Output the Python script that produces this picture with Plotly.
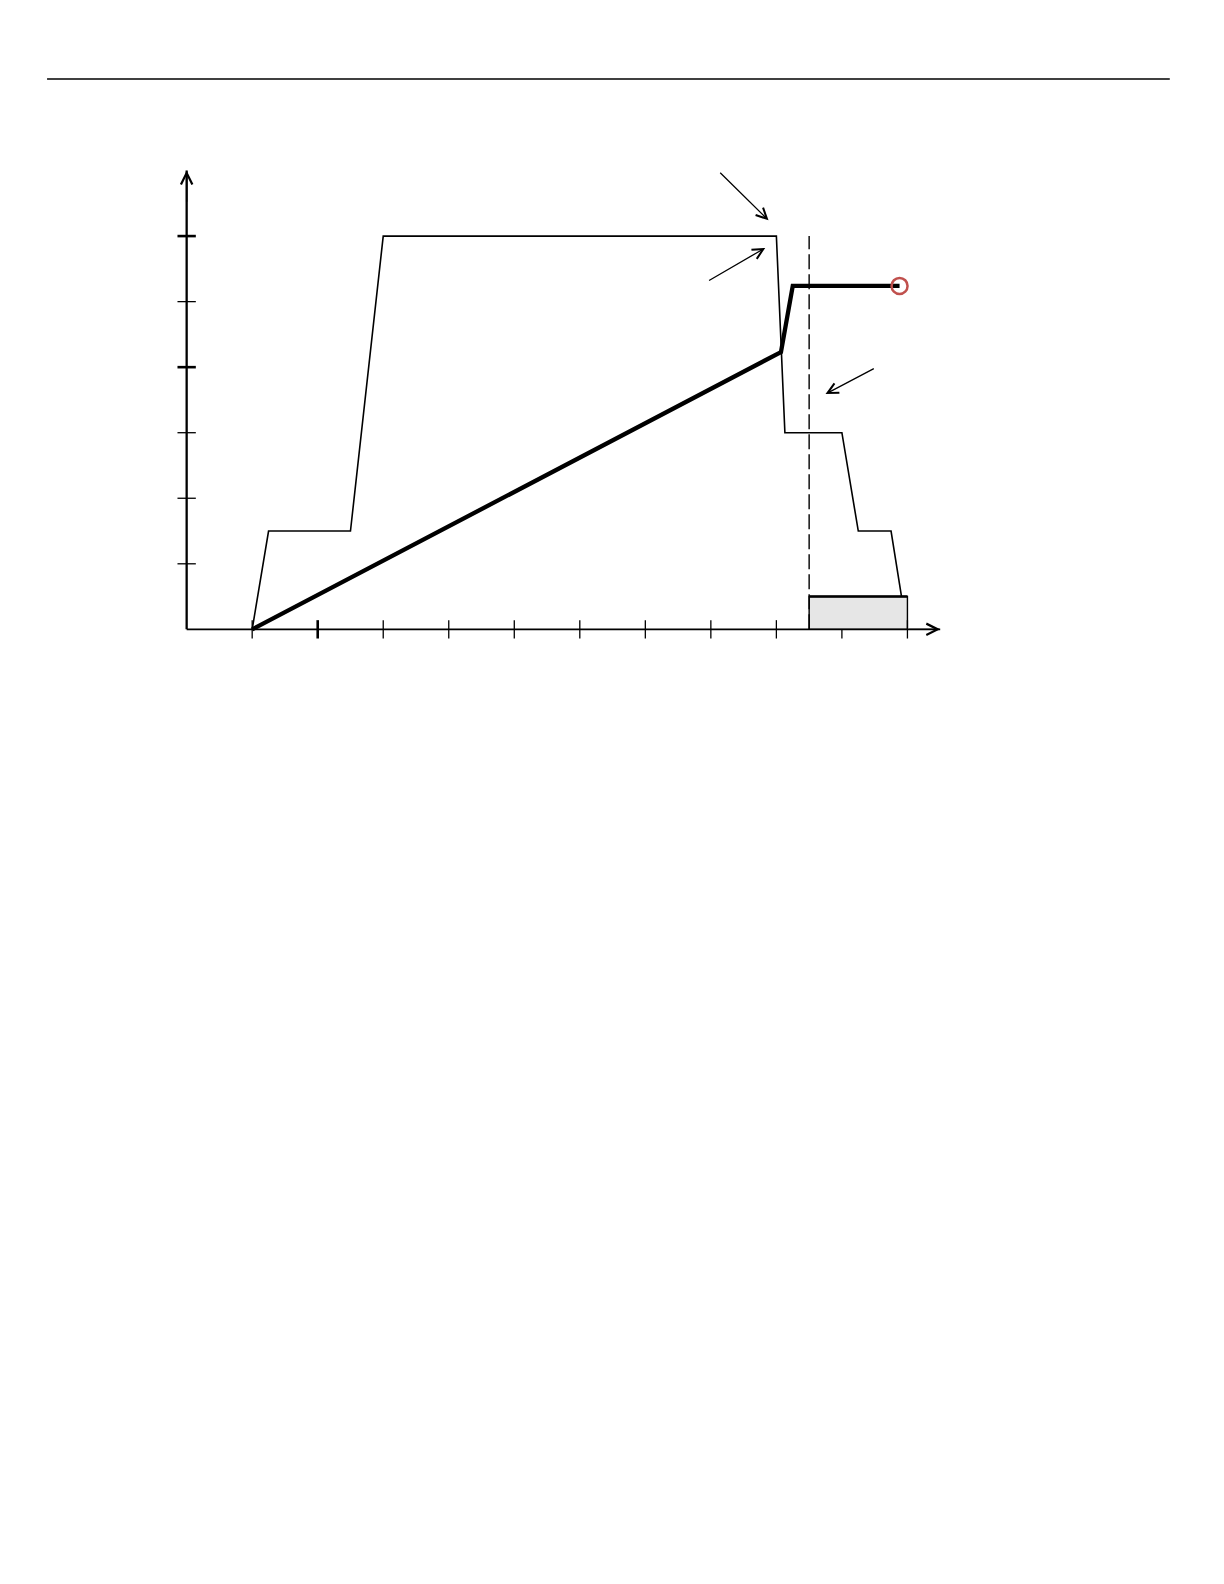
import plotly.graph_objects as go

# axis ticks (data units)
x_ticks = [1, 2, 3, 4, 5, 6, 7, 8, 9, 10, 11]
y_ticks = [1, 2, 3, 4, 5, 6]
x_major = [2]
y_major = [4, 6]

# thin profile line
outer_x = [1, 1.25, 2.5, 3, 9, 9.13, 10, 10.25, 10.75, 10.91]
outer_y = [0, 1.5, 1.5, 6, 6, 3, 3, 1.5, 1.5, 0.5]

# thick accumulated line
thick_x = [1, 9.07, 9.25, 10.88]
thick_y = [0, 4.23, 5.24, 5.24]

# shaded block and dashed marker
block_x = [9.5, 11, 11, 9.5, 9.5]
block_y = [0, 0, 0.5, 0.5, 0]
dash_x = [9.5, 9.5]
dash_y = [0, 6]

# pointer arrows: (tail_x, tail_y, head_x, head_y)
arrows = [
    (8.12, 6.99, 8.88, 6.24),
    (7.95, 5.31, 8.83, 5.82),
    (10.51, 3.99, 9.75, 3.59),
]

x_max = 11.5
y_max = 7.0

fig = go.Figure()

fig.add_trace(go.Scatter(x=block_x, y=block_y, mode="lines", fill="toself",
                         fillcolor="#e6e6e6", line=dict(color="black", width=1.4),
                         hoverinfo="skip"))
fig.add_trace(go.Scatter(x=block_x[2:4], y=block_y[2:4], mode="lines",
                         line=dict(color="black", width=2.4), hoverinfo="skip"))
fig.add_trace(go.Scatter(x=dash_x, y=dash_y, mode="lines",
                         line=dict(color="black", width=1.4, dash="15px,5px"),
                         hoverinfo="skip"))
fig.add_trace(go.Scatter(x=outer_x, y=outer_y, mode="lines",
                         line=dict(color="black", width=1.6), hoverinfo="skip"))
fig.add_trace(go.Scatter(x=thick_x, y=thick_y, mode="lines",
                         line=dict(color="black", width=4.3), hoverinfo="skip"))
fig.add_trace(go.Scatter(x=[thick_x[-1]], y=[thick_y[-1]], mode="markers",
                         marker=dict(symbol="circle-open", size=16, color="#c0504d",
                                     line=dict(width=2.5, color="#c0504d")),
                         hoverinfo="skip"))

# axes lines
fig.add_trace(go.Scatter(x=[0, x_max], y=[0, 0], mode="lines",
                         line=dict(color="black", width=1.7), hoverinfo="skip"))
fig.add_trace(go.Scatter(x=[0, 0], y=[0, y_max], mode="lines",
                         line=dict(color="black", width=2.3), hoverinfo="skip"))

# ticks
tl = 0.14
for t in x_ticks:
    w = 2.6 if t in x_major else 1.3
    fig.add_shape(type="line", x0=t, x1=t, y0=-tl, y1=0 if t == 10 else tl,
                  line=dict(color="black", width=w))
for t in y_ticks:
    w = 2.6 if t in y_major else 1.3
    fig.add_shape(type="line", x0=-tl, x1=tl, y0=t, y1=t,
                  line=dict(color="black", width=w))

# axis arrow heads
fig.add_annotation(x=x_max, y=0, ax=x_max - 0.5, ay=0, xref="x", yref="y",
                   axref="x", ayref="y", text="", showarrow=True, arrowhead=5,
                   arrowsize=1.6, arrowwidth=1.4, arrowcolor="black")
fig.add_annotation(x=0, y=y_max, ax=0, ay=y_max - 0.5, xref="x", yref="y",
                   axref="x", ayref="y", text="", showarrow=True, arrowhead=5,
                   arrowsize=1.6, arrowwidth=1.4, arrowcolor="black")

for tx, ty, hx, hy in arrows:
    fig.add_annotation(x=hx, y=hy, ax=tx, ay=ty, xref="x", yref="y",
                       axref="x", ayref="y", text="", showarrow=True, arrowhead=5,
                       arrowsize=1.6, arrowwidth=1.3, arrowcolor="black")

# page header rule
fig.add_shape(type="line", xref="paper", yref="paper", x0=-0.128, x1=1.0702,
              y0=1.0479, y1=1.0479, line=dict(color="black", width=1.6))

fig.update_xaxes(range=[-0.3, 14], visible=False, fixedrange=True)
fig.update_yaxes(range=[-0.3, 8], visible=False, fixedrange=True)
fig.update_layout(width=1208, height=1568, showlegend=False,
                  plot_bgcolor="white", paper_bgcolor="white",
                  margin=dict(l=159.4, r=111.9, t=97, b=927.35))

fig.write_html("out.html")
